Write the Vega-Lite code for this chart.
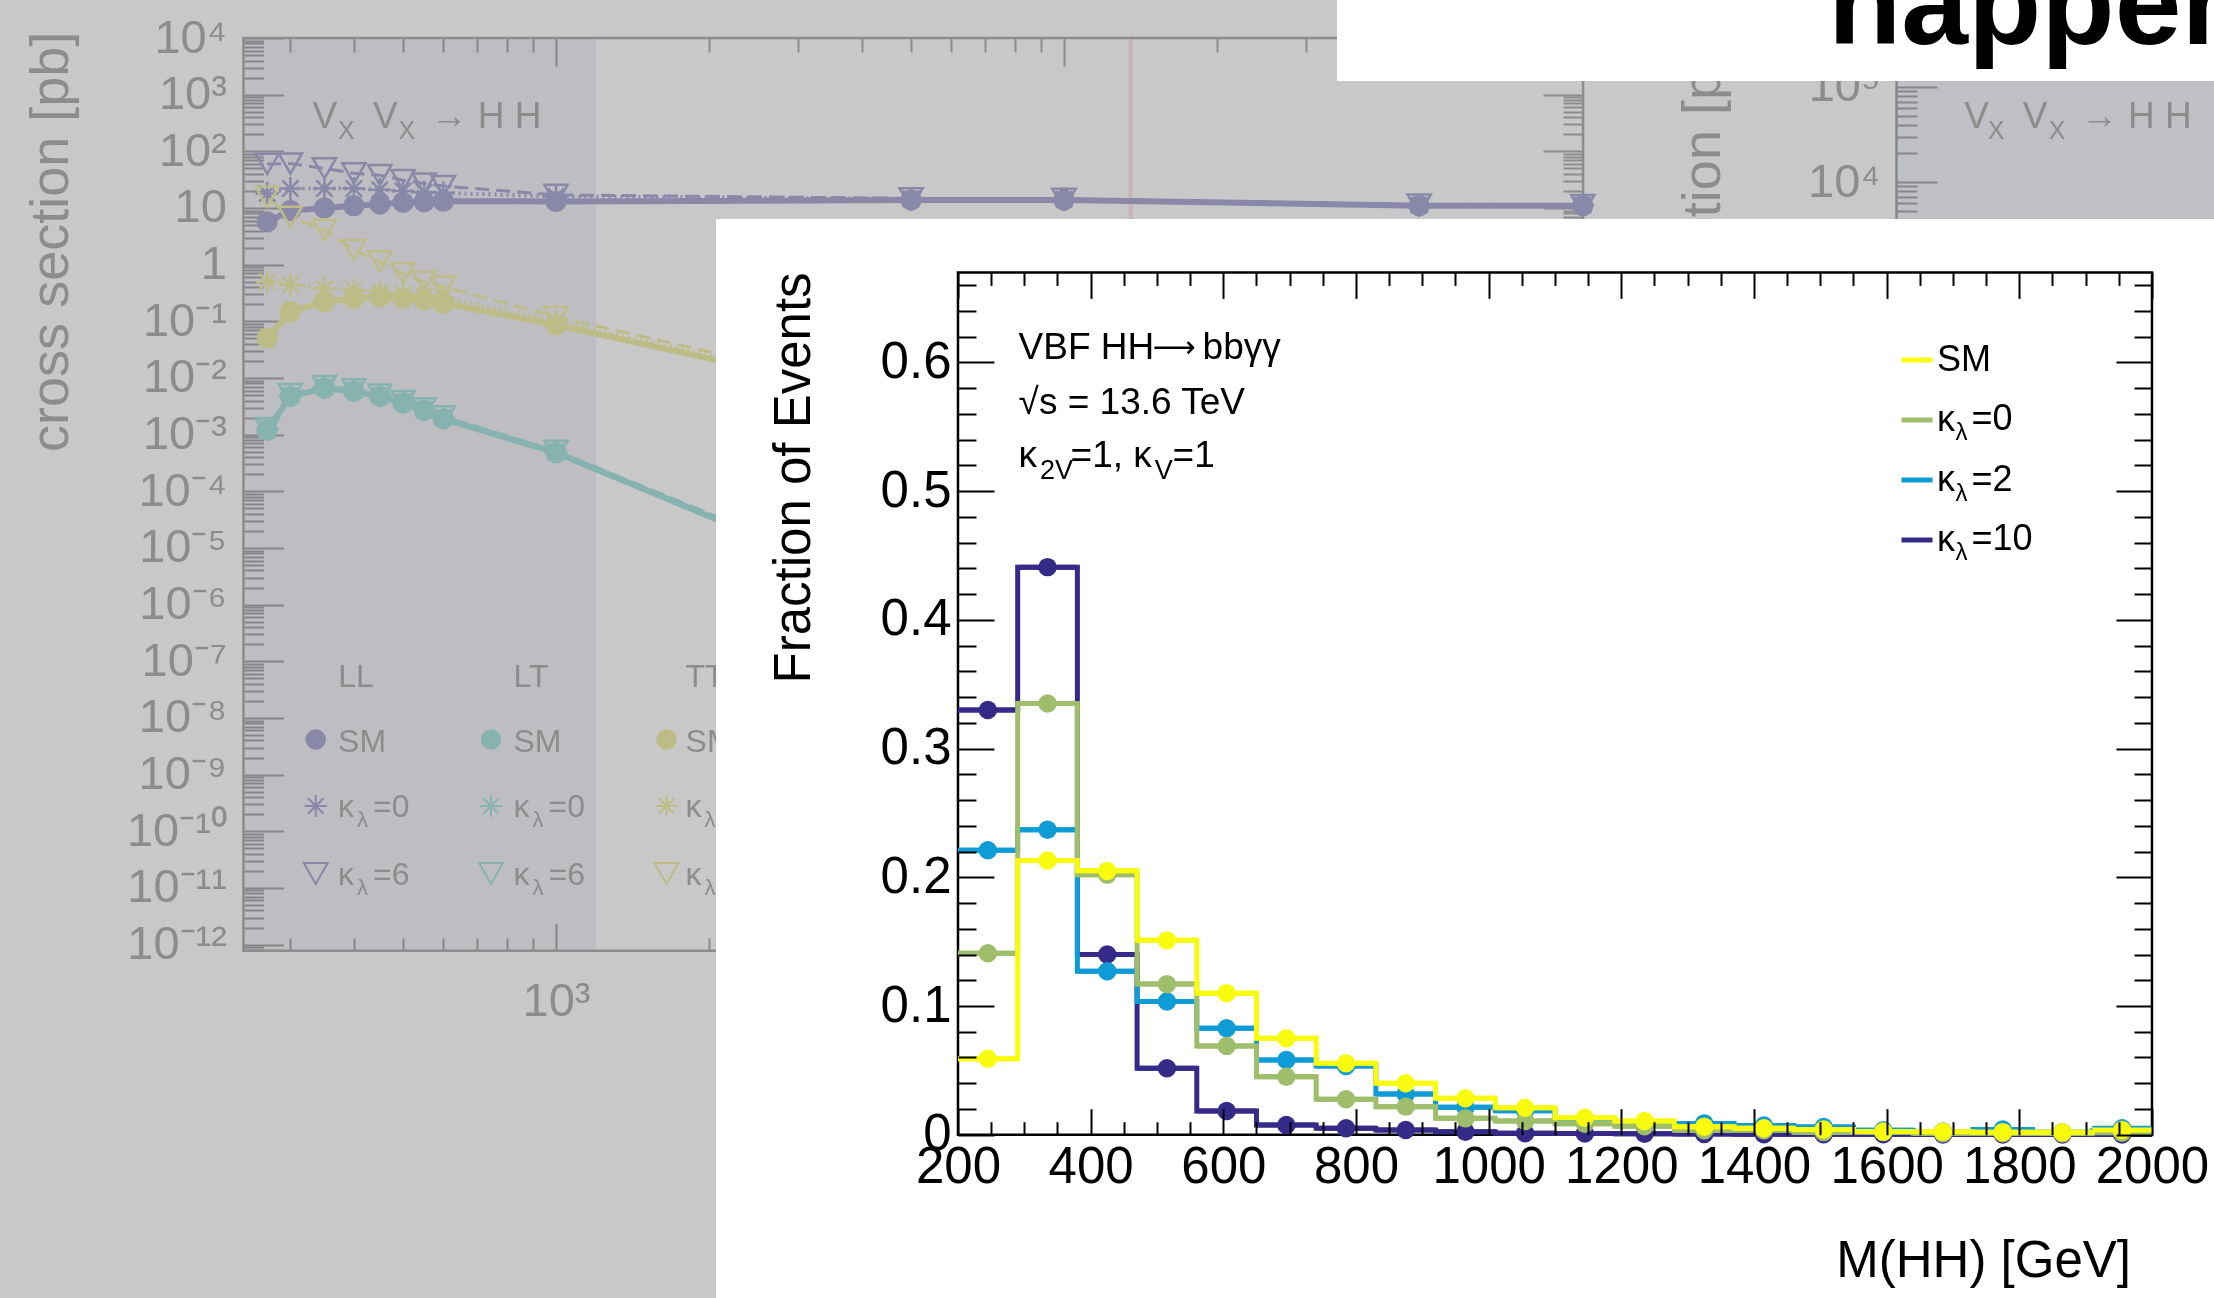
{
"$schema":"https://vega.github.io/schema/vega-lite/v6.json",
"width":2214,"height":1298,
"autosize":{"type":"none"},
"padding":0,
"background":"#c8c8c8",
"config":{"view":{"stroke":null},"font":"Liberation Sans","axis":{"grid":false,"domain":false,"labelFlush":false,"labelOverlap":false}},
"data":{"values":[{}]},
"datasets":{
"k10":[{"lo":200,"hi":290,"m":245,"f":0.330},{"lo":290,"hi":380,"m":335,"f":0.441},{"lo":380,"hi":470,"m":425,"f":0.140},{"lo":470,"hi":560,"m":515,"f":0.0516},{"lo":560,"hi":650,"m":605,"f":0.0184},{"lo":650,"hi":740,"m":695,"f":0.0075},{"lo":740,"hi":830,"m":785,"f":0.0050},{"lo":830,"hi":920,"m":875,"f":0.0037},{"lo":920,"hi":1010,"m":965,"f":0.0023},{"lo":1010,"hi":1100,"m":1055,"f":0.0012},{"lo":1100,"hi":1190,"m":1145,"f":0.0010},{"lo":1190,"hi":1280,"m":1235,"f":0.0007},{"lo":1280,"hi":1370,"m":1325,"f":0.0005},{"lo":1370,"hi":1460,"m":1415,"f":0.0004},{"lo":1460,"hi":1550,"m":1505,"f":0.0003},{"lo":1550,"hi":1640,"m":1595,"f":0.0003},{"lo":1640,"hi":1730,"m":1685,"f":0.0002},{"lo":1730,"hi":1820,"m":1775,"f":0.0002},{"lo":1820,"hi":1910,"m":1865,"f":0.0001},{"lo":1910,"hi":2000,"m":1955,"f":0.0001}],
"k2":[{"lo":200,"hi":290,"m":245,"f":0.221},{"lo":290,"hi":380,"m":335,"f":0.237},{"lo":380,"hi":470,"m":425,"f":0.127},{"lo":470,"hi":560,"m":515,"f":0.1035},{"lo":560,"hi":650,"m":605,"f":0.0827},{"lo":650,"hi":740,"m":695,"f":0.0580},{"lo":740,"hi":830,"m":785,"f":0.0534},{"lo":830,"hi":920,"m":875,"f":0.0316},{"lo":920,"hi":1010,"m":965,"f":0.0213},{"lo":1010,"hi":1100,"m":1055,"f":0.0187},{"lo":1100,"hi":1190,"m":1145,"f":0.0125},{"lo":1190,"hi":1280,"m":1235,"f":0.0095},{"lo":1280,"hi":1370,"m":1325,"f":0.0088},{"lo":1370,"hi":1460,"m":1415,"f":0.0072},{"lo":1460,"hi":1550,"m":1505,"f":0.0060},{"lo":1550,"hi":1640,"m":1595,"f":0.0035},{"lo":1640,"hi":1730,"m":1685,"f":0.0025},{"lo":1730,"hi":1820,"m":1775,"f":0.0040},{"lo":1820,"hi":1910,"m":1865,"f":0.0020},{"lo":1910,"hi":2000,"m":1955,"f":0.0050}],
"k0":[{"lo":200,"hi":290,"m":245,"f":0.141},{"lo":290,"hi":380,"m":335,"f":0.335},{"lo":380,"hi":470,"m":425,"f":0.202},{"lo":470,"hi":560,"m":515,"f":0.117},{"lo":560,"hi":650,"m":605,"f":0.069},{"lo":650,"hi":740,"m":695,"f":0.045},{"lo":740,"hi":830,"m":785,"f":0.0275},{"lo":830,"hi":920,"m":875,"f":0.0218},{"lo":920,"hi":1010,"m":965,"f":0.0127},{"lo":1010,"hi":1100,"m":1055,"f":0.0106},{"lo":1100,"hi":1190,"m":1145,"f":0.0085},{"lo":1190,"hi":1280,"m":1235,"f":0.0065},{"lo":1280,"hi":1370,"m":1325,"f":0.0035},{"lo":1370,"hi":1460,"m":1415,"f":0.0035},{"lo":1460,"hi":1550,"m":1505,"f":0.0020},{"lo":1550,"hi":1640,"m":1595,"f":0.0020},{"lo":1640,"hi":1730,"m":1685,"f":0.0012},{"lo":1730,"hi":1820,"m":1775,"f":0.0012},{"lo":1820,"hi":1910,"m":1865,"f":0.0010},{"lo":1910,"hi":2000,"m":1955,"f":0.0015}],
"sm":[{"lo":200,"hi":290,"m":245,"f":0.059},{"lo":290,"hi":380,"m":335,"f":0.213},{"lo":380,"hi":470,"m":425,"f":0.205},{"lo":470,"hi":560,"m":515,"f":0.151},{"lo":560,"hi":650,"m":605,"f":0.110},{"lo":650,"hi":740,"m":695,"f":0.075},{"lo":740,"hi":830,"m":785,"f":0.0555},{"lo":830,"hi":920,"m":875,"f":0.040},{"lo":920,"hi":1010,"m":965,"f":0.0283},{"lo":1010,"hi":1100,"m":1055,"f":0.0210},{"lo":1100,"hi":1190,"m":1145,"f":0.0132},{"lo":1190,"hi":1280,"m":1235,"f":0.0106},{"lo":1280,"hi":1370,"m":1325,"f":0.0062},{"lo":1370,"hi":1460,"m":1415,"f":0.0050},{"lo":1460,"hi":1550,"m":1505,"f":0.0040},{"lo":1550,"hi":1640,"m":1595,"f":0.0025},{"lo":1640,"hi":1730,"m":1685,"f":0.0023},{"lo":1730,"hi":1820,"m":1775,"f":0.0020},{"lo":1820,"hi":1910,"m":1865,"f":0.0020},{"lo":1910,"hi":2000,"m":1955,"f":0.0037}],
"bg":[
{"ch":"LL","kl":"SM","x":270,"y":5.7},{"ch":"LL","kl":"SM","x":300,"y":9},{"ch":"LL","kl":"SM","x":350,"y":10},{"ch":"LL","kl":"SM","x":400,"y":11},{"ch":"LL","kl":"SM","x":450,"y":11.7},{"ch":"LL","kl":"SM","x":500,"y":12.5},{"ch":"LL","kl":"SM","x":550,"y":12.9},{"ch":"LL","kl":"SM","x":600,"y":13.2},{"ch":"LL","kl":"SM","x":1000,"y":13},{"ch":"LL","kl":"SM","x":5000,"y":13.8},{"ch":"LL","kl":"SM","x":10000,"y":13.8},{"ch":"LL","kl":"SM","x":50000,"y":11},{"ch":"LL","kl":"SM","x":105000,"y":11},
{"ch":"LL","kl":"0","x":270,"y":18},{"ch":"LL","kl":"0","x":300,"y":22},{"ch":"LL","kl":"0","x":350,"y":22},{"ch":"LL","kl":"0","x":400,"y":22},{"ch":"LL","kl":"0","x":450,"y":21},{"ch":"LL","kl":"0","x":500,"y":20},{"ch":"LL","kl":"0","x":550,"y":19},{"ch":"LL","kl":"0","x":600,"y":18.5},{"ch":"LL","kl":"0","x":1000,"y":16},{"ch":"LL","kl":"0","x":5000,"y":14.5},{"ch":"LL","kl":"0","x":10000,"y":14.2},{"ch":"LL","kl":"0","x":50000,"y":11.2},{"ch":"LL","kl":"0","x":105000,"y":11.2},
{"ch":"LL","kl":"6","x":270,"y":60},{"ch":"LL","kl":"6","x":300,"y":61},{"ch":"LL","kl":"6","x":350,"y":50},{"ch":"LL","kl":"6","x":400,"y":41},{"ch":"LL","kl":"6","x":450,"y":38},{"ch":"LL","kl":"6","x":500,"y":31},{"ch":"LL","kl":"6","x":550,"y":27},{"ch":"LL","kl":"6","x":600,"y":24.4},{"ch":"LL","kl":"6","x":1000,"y":17},{"ch":"LL","kl":"6","x":5000,"y":14.8},{"ch":"LL","kl":"6","x":10000,"y":14.5},{"ch":"LL","kl":"6","x":50000,"y":11.5},{"ch":"LL","kl":"6","x":105000,"y":11.3},
{"ch":"TT","kl":"SM","x":270,"y":0.05},{"ch":"TT","kl":"SM","x":300,"y":0.148},{"ch":"TT","kl":"SM","x":350,"y":0.222},{"ch":"TT","kl":"SM","x":400,"y":0.255},{"ch":"TT","kl":"SM","x":450,"y":0.27},{"ch":"TT","kl":"SM","x":500,"y":0.255},{"ch":"TT","kl":"SM","x":550,"y":0.238},{"ch":"TT","kl":"SM","x":600,"y":0.208},{"ch":"TT","kl":"SM","x":1000,"y":0.086},{"ch":"TT","kl":"SM","x":5000,"y":0.0037},
{"ch":"TT","kl":"0","x":270,"y":0.5},{"ch":"TT","kl":"0","x":300,"y":0.44},{"ch":"TT","kl":"0","x":350,"y":0.38},{"ch":"TT","kl":"0","x":400,"y":0.36},{"ch":"TT","kl":"0","x":450,"y":0.33},{"ch":"TT","kl":"0","x":500,"y":0.3},{"ch":"TT","kl":"0","x":550,"y":0.28},{"ch":"TT","kl":"0","x":600,"y":0.26},{"ch":"TT","kl":"0","x":1000,"y":0.1},{"ch":"TT","kl":"0","x":5000,"y":0.004},
{"ch":"TT","kl":"6","x":270,"y":15.8},{"ch":"TT","kl":"6","x":300,"y":7},{"ch":"TT","kl":"6","x":350,"y":4.1},{"ch":"TT","kl":"6","x":400,"y":1.8},{"ch":"TT","kl":"6","x":450,"y":1.13},{"ch":"TT","kl":"6","x":500,"y":0.7},{"ch":"TT","kl":"6","x":550,"y":0.5},{"ch":"TT","kl":"6","x":600,"y":0.41},{"ch":"TT","kl":"6","x":1000,"y":0.12},{"ch":"TT","kl":"6","x":5000,"y":0.0045},
{"ch":"LT","kl":"SM","x":270,"y":0.0012},{"ch":"LT","kl":"SM","x":300,"y":0.0047},{"ch":"LT","kl":"SM","x":350,"y":0.0066},{"ch":"LT","kl":"SM","x":400,"y":0.0058},{"ch":"LT","kl":"SM","x":450,"y":0.0047},{"ch":"LT","kl":"SM","x":500,"y":0.0036},{"ch":"LT","kl":"SM","x":550,"y":0.0027},{"ch":"LT","kl":"SM","x":600,"y":0.0019},{"ch":"LT","kl":"SM","x":1000,"y":0.00048},{"ch":"LT","kl":"SM","x":5000,"y":0.0000012},
{"ch":"LT","kl":"0","x":270,"y":0.00125},{"ch":"LT","kl":"0","x":300,"y":0.0049},{"ch":"LT","kl":"0","x":350,"y":0.0069},{"ch":"LT","kl":"0","x":400,"y":0.0061},{"ch":"LT","kl":"0","x":450,"y":0.0049},{"ch":"LT","kl":"0","x":500,"y":0.0038},{"ch":"LT","kl":"0","x":550,"y":0.0028},{"ch":"LT","kl":"0","x":600,"y":0.002},{"ch":"LT","kl":"0","x":1000,"y":0.0005},{"ch":"LT","kl":"0","x":5000,"y":0.0000013},
{"ch":"LT","kl":"6","x":270,"y":0.0013},{"ch":"LT","kl":"6","x":300,"y":0.0052},{"ch":"LT","kl":"6","x":350,"y":0.0072},{"ch":"LT","kl":"6","x":400,"y":0.0063},{"ch":"LT","kl":"6","x":450,"y":0.0051},{"ch":"LT","kl":"6","x":500,"y":0.0039},{"ch":"LT","kl":"6","x":550,"y":0.0029},{"ch":"LT","kl":"6","x":600,"y":0.0021},{"ch":"LT","kl":"6","x":1000,"y":0.00052},{"ch":"LT","kl":"6","x":5000,"y":0.0000014}
]
},
"layer":[
{
"layer":[
{
"layer":[
{"mark":{"type":"rect","color":"#f2f3f8","blend":"multiply"},"encoding":{"x":{"datum":242.5,"type":"quantitative","axis":null},"x2":{"datum":1200},"y":{"datum":7.8e-13,"type":"quantitative","axis":null},"y2":{"datum":10000}}},
{"mark":{"type":"rule","color":"#c8b4b6","strokeWidth":4},"encoding":{"x":{"datum":13524,"type":"quantitative","axis":null},"y":{"datum":7.8e-13,"type":"quantitative","axis":null},"y2":{"datum":10000}}},
{"mark":{"type":"rect","filled":false,"color":"#8c8c8c","strokeWidth":2.5},"encoding":{"x":{"datum":242.5,"type":"quantitative","axis":null},"x2":{"datum":105122},"y":{"datum":7.8e-13,"type":"quantitative","axis":null},"y2":{"datum":10000}}},
{"data":{"name":"bg"},"transform":[{"filter":"datum.kl == 'SM'"}],"mark":{"type":"line","strokeWidth":6,"strokeCap":"round"},"encoding":{
"x":{"field":"x","type":"quantitative","scale":{"type":"log","domain":[80.44,1835500],"nice":false,"zero":false},"axis":{"orient":"bottom","offset":-347.3,"values":[1000,10000,100000],"ticks":false,"labelExpr":"({'3':'10³','4':'10⁴','5':'10⁵'})[''+round(log(datum.value)/LN10)]","labelFontSize":47,"labelColor":"#8c8c8c","labelPadding":28,"title":null}},
"y":{"field":"y","type":"quantitative","scale":{"type":"log","domain":[5.783e-19,46854],"nice":false,"zero":false},"axis":{"orient":"left","offset":-243.4,"values":[1e-12,1e-11,1e-10,1e-9,1e-8,1e-7,1e-6,1e-5,1e-4,0.001,0.01,0.1,1,10,100,1000,10000],"ticks":false,"labelExpr":"({'4':'10⁴','3':'10³','2':'10²','1':'10','0':'1','-1':'10⁻¹','-2':'10⁻²','-3':'10⁻³','-4':'10⁻⁴','-5':'10⁻⁵','-6':'10⁻⁶','-7':'10⁻⁷','-8':'10⁻⁸','-9':'10⁻⁹','-10':'10⁻¹⁰','-11':'10⁻¹¹','-12':'10⁻¹²'})[''+round(log(datum.value)/LN10)]","labelFontSize":47,"labelColor":"#8c8c8c","labelPadding":17,"title":null}},
"color":{"field":"ch","type":"nominal","scale":{"domain":["LL","LT","TT"],"range":["#8a88a8","#86b2b0","#bdbc87"]},"legend":null}}},
{"data":{"name":"bg"},"transform":[{"filter":"datum.kl == '0'"}],"mark":{"type":"line","strokeWidth":4,"strokeDash":[2,4]},"encoding":{
"x":{"field":"x","type":"quantitative","axis":{"orient":"top","offset":-950.7,"values":[1000,10000,100000],"labels":false,"tickSize":27,"tickWidth":2,"tickColor":"#8c8c8c","title":null}},
"y":{"field":"y","type":"quantitative","axis":{"orient":"right","offset":-1970.6,"values":[1e-12,1e-11,1e-10,1e-9,1e-8,1e-7,1e-6,1e-5,1e-4,0.001,0.01,0.1,1,10,100,1000,10000],"labels":false,"tickSize":40,"tickWidth":2,"tickColor":"#8c8c8c","title":null}},
"color":{"field":"ch","type":"nominal","legend":null}}},
{"data":{"name":"bg"},"transform":[{"filter":"datum.kl == '6'"}],"mark":{"type":"line","strokeWidth":3,"strokeDash":[14,7]},"encoding":{
"x":{"field":"x","type":"quantitative","axis":{"orient":"top","offset":-950.7,"values":[300,400,500,600,700,800,900,2000,3000,4000,5000,6000,7000,8000,9000,20000,30000,40000,50000,60000,70000,80000,90000],"labels":false,"tickSize":13,"tickWidth":2,"tickColor":"#8c8c8c","title":null}},
"y":{"field":"y","type":"quantitative","axis":{"orient":"right","offset":-1970.6,"values":[8e-13,9e-13,2e-12,3e-12,4e-12,5e-12,6e-12,7e-12,8e-12,9e-12,2e-11,3e-11,4e-11,5e-11,6e-11,7e-11,8e-11,9e-11,2e-10,3e-10,4e-10,5e-10,6e-10,7e-10,8e-10,9e-10,2e-9,3e-9,4e-9,5e-9,6e-9,7e-9,8e-9,9e-9,2e-8,3e-8,4e-8,5e-8,6e-8,7e-8,8e-8,9e-8,2e-7,3e-7,4e-7,5e-7,6e-7,7e-7,8e-7,9e-7,2e-6,3e-6,4e-6,5e-6,6e-6,7e-6,8e-6,9e-6,2e-5,3e-5,4e-5,5e-5,6e-5,7e-5,8e-5,9e-5,2e-4,3e-4,4e-4,5e-4,6e-4,7e-4,8e-4,9e-4,0.002,0.003,0.004,0.005,0.006,0.007,0.008,0.009,0.02,0.03,0.04,0.05,0.06,0.07,0.08,0.09,0.2,0.3,0.4,0.5,0.6,0.7,0.8,0.9,2,3,4,5,6,7,8,9,20,30,40,50,60,70,80,90,200,300,400,500,600,700,800,900,2000,3000,4000,5000,6000,7000,8000,9000],"labels":false,"tickSize":20,"tickWidth":2,"tickColor":"#8c8c8c","title":null}},
"color":{"field":"ch","type":"nominal","legend":null}}},
{"data":{"name":"bg"},"transform":[{"filter":"datum.kl == 'SM'"}],"mark":{"type":"circle","size":450,"opacity":1},"encoding":{
"x":{"field":"x","type":"quantitative","axis":{"orient":"bottom","offset":-1260,"values":[1000,10000,100000],"labels":false,"tickSize":28,"tickWidth":2,"tickColor":"#8c8c8c","title":null}},
"y":{"field":"y","type":"quantitative","axis":{"orient":"left","offset":-1583,"values":[1e-12,1e-11,1e-10,1e-9,1e-8,1e-7,1e-6,1e-5,1e-4,0.001,0.01,0.1,1,10,100,1000,10000],"labels":false,"tickSize":40,"tickWidth":2,"tickColor":"#8c8c8c","title":null}},
"color":{"field":"ch","type":"nominal","legend":null}}},
{"data":{"name":"bg"},"transform":[{"filter":"datum.kl != 'SM'"}],"mark":{"type":"point","filled":false,"size":540,"strokeWidth":2.5,"opacity":1},"encoding":{
"x":{"field":"x","type":"quantitative","axis":{"orient":"bottom","offset":-1260,"values":[300,400,500,600,700,800,900,2000,3000,4000,5000,6000,7000,8000,9000,20000,30000,40000,50000,60000,70000,80000,90000],"labels":false,"tickSize":14,"tickWidth":2,"tickColor":"#8c8c8c","title":null}},
"y":{"field":"y","type":"quantitative","axis":{"orient":"left","offset":-1583,"values":[2e-12,3e-12,4e-12,5e-12,6e-12,7e-12,8e-12,9e-12,2e-11,3e-11,4e-11,5e-11,6e-11,7e-11,8e-11,9e-11,2e-10,3e-10,4e-10,5e-10,6e-10,7e-10,8e-10,9e-10,2e-9,3e-9,4e-9,5e-9,6e-9,7e-9,8e-9,9e-9,2e-8,3e-8,4e-8,5e-8,6e-8,7e-8,8e-8,9e-8,2e-7,3e-7,4e-7,5e-7,6e-7,7e-7,8e-7,9e-7,2e-6,3e-6,4e-6,5e-6,6e-6,7e-6,8e-6,9e-6,2e-5,3e-5,4e-5,5e-5,6e-5,7e-5,8e-5,9e-5,2e-4,3e-4,4e-4,5e-4,6e-4,7e-4,8e-4,9e-4,0.002,0.003,0.004,0.005,0.006,0.007,0.008,0.009,0.02,0.03,0.04,0.05,0.06,0.07,0.08,0.09,0.2,0.3,0.4,0.5,0.6,0.7,0.8,0.9,2,3,4,5,6,7,8,9,20,30,40,50,60,70,80,90,200,300,400,500,600,700,800,900,2000,3000,4000,5000,6000,7000,8000,9000],"labels":false,"tickSize":20,"tickWidth":2,"tickColor":"#8c8c8c","title":null}},
"shape":{"field":"kl","type":"nominal","scale":{"domain":["0","6"],"range":["M-1,0L1,0M0,-1L0,1M-0.7,-0.7L0.7,0.7M-0.7,0.7L0.7,-0.7","triangle-down"]},"legend":null},
"color":{"field":"ch","type":"nominal","legend":null}}},
{"mark":{"type":"text","text":"cross section [pb]","fontSize":54,"angle":270,"align":"right","baseline":"alphabetic","color":"#8c8c8c"},"encoding":{"x":{"datum":109.5,"type":"quantitative","axis":null},"y":{"datum":12918,"type":"quantitative","axis":null}}},
{"mark":{"type":"text","text":"V","fontSize":37,"align":"left","baseline":"alphabetic","color":"#8c8c8c"},"encoding":{"x":{"datum":331.6,"type":"quantitative","axis":null},"y":{"datum":254.9,"type":"quantitative","axis":null}}},
{"mark":{"type":"text","text":"X","fontSize":25,"dx":25.5,"dy":11,"align":"left","baseline":"alphabetic","color":"#8c8c8c"},"encoding":{"x":{"datum":331.6,"type":"quantitative","axis":null},"y":{"datum":254.9,"type":"quantitative","axis":null}}},
{"mark":{"type":"text","text":"V","fontSize":37,"dx":60.5,"align":"left","baseline":"alphabetic","color":"#8c8c8c"},"encoding":{"x":{"datum":331.6,"type":"quantitative","axis":null},"y":{"datum":254.9,"type":"quantitative","axis":null}}},
{"mark":{"type":"text","text":"X","fontSize":25,"dx":86,"dy":11,"align":"left","baseline":"alphabetic","color":"#8c8c8c"},"encoding":{"x":{"datum":331.6,"type":"quantitative","axis":null},"y":{"datum":254.9,"type":"quantitative","axis":null}}},
{"mark":{"type":"text","text":"→ H H","fontSize":37,"dx":118,"align":"left","baseline":"alphabetic","color":"#8c8c8c"},"encoding":{"x":{"datum":331.6,"type":"quantitative","axis":null},"y":{"datum":254.9,"type":"quantitative","axis":null}}},
{"mark":{"type":"text","text":"LL","fontSize":32,"align":"center","baseline":"alphabetic","color":"#8c8c8c"},"encoding":{"x":{"datum":404,"type":"quantitative","axis":null},"y":{"datum":3.541e-8,"type":"quantitative","axis":null}}},
{"mark":{"type":"text","text":"LT","fontSize":32,"align":"center","baseline":"alphabetic","color":"#8c8c8c"},"encoding":{"x":{"datum":892.8,"type":"quantitative","axis":null},"y":{"datum":3.541e-8,"type":"quantitative","axis":null}}},
{"mark":{"type":"text","text":"TT","fontSize":32,"align":"center","baseline":"alphabetic","color":"#8c8c8c"},"encoding":{"x":{"datum":1965,"type":"quantitative","axis":null},"y":{"datum":3.541e-8,"type":"quantitative","axis":null}}},
{"mark":{"type":"circle","size":420,"opacity":1,"color":"#8a88a8"},"encoding":{"x":{"datum":336.5,"type":"quantitative","axis":null},"y":{"datum":4.178e-9,"type":"quantitative","axis":null}}},
{"mark":{"type":"circle","size":420,"opacity":1,"color":"#86b2b0"},"encoding":{"x":{"datum":744.8,"type":"quantitative","axis":null},"y":{"datum":4.178e-9,"type":"quantitative","axis":null}}},
{"mark":{"type":"circle","size":420,"opacity":1,"color":"#bdbc87"},"encoding":{"x":{"datum":1650,"type":"quantitative","axis":null},"y":{"datum":4.178e-9,"type":"quantitative","axis":null}}},
{"mark":{"type":"point","shape":"M-1,0L1,0M0,-1L0,1M-0.7,-0.7L0.7,0.7M-0.7,0.7L0.7,-0.7","filled":false,"size":484,"strokeWidth":2,"opacity":1,"color":"#8a88a8"},"encoding":{"x":{"datum":336.5,"type":"quantitative","axis":null},"y":{"datum":2.79e-10,"type":"quantitative","axis":null}}},
{"mark":{"type":"point","shape":"M-1,0L1,0M0,-1L0,1M-0.7,-0.7L0.7,0.7M-0.7,0.7L0.7,-0.7","filled":false,"size":484,"strokeWidth":2,"opacity":1,"color":"#86b2b0"},"encoding":{"x":{"datum":744.8,"type":"quantitative","axis":null},"y":{"datum":2.79e-10,"type":"quantitative","axis":null}}},
{"mark":{"type":"point","shape":"M-1,0L1,0M0,-1L0,1M-0.7,-0.7L0.7,0.7M-0.7,0.7L0.7,-0.7","filled":false,"size":484,"strokeWidth":2,"opacity":1,"color":"#bdbc87"},"encoding":{"x":{"datum":1650,"type":"quantitative","axis":null},"y":{"datum":2.79e-10,"type":"quantitative","axis":null}}},
{"mark":{"type":"point","shape":"triangle-down","filled":false,"size":576,"strokeWidth":2,"opacity":1,"color":"#8a88a8"},"encoding":{"x":{"datum":336.5,"type":"quantitative","axis":null},"y":{"datum":1.795e-11,"type":"quantitative","axis":null}}},
{"mark":{"type":"point","shape":"triangle-down","filled":false,"size":576,"strokeWidth":2,"opacity":1,"color":"#86b2b0"},"encoding":{"x":{"datum":744.8,"type":"quantitative","axis":null},"y":{"datum":1.795e-11,"type":"quantitative","axis":null}}},
{"mark":{"type":"point","shape":"triangle-down","filled":false,"size":576,"strokeWidth":2,"opacity":1,"color":"#bdbc87"},"encoding":{"x":{"datum":1650,"type":"quantitative","axis":null},"y":{"datum":1.795e-11,"type":"quantitative","axis":null}}},
{"mark":{"type":"text","text":"SM","fontSize":32,"align":"left","baseline":"alphabetic","color":"#8c8c8c"},"encoding":{"x":{"datum":372.3,"type":"quantitative","axis":null},"y":{"datum":2.544e-9,"type":"quantitative","axis":null}}},
{"mark":{"type":"text","text":"SM","fontSize":32,"align":"left","baseline":"alphabetic","color":"#8c8c8c"},"encoding":{"x":{"datum":824.6,"type":"quantitative","axis":null},"y":{"datum":2.544e-9,"type":"quantitative","axis":null}}},
{"mark":{"type":"text","text":"SM","fontSize":32,"align":"left","baseline":"alphabetic","color":"#8c8c8c"},"encoding":{"x":{"datum":1799,"type":"quantitative","axis":null},"y":{"datum":2.544e-9,"type":"quantitative","axis":null}}},
{"mark":{"type":"text","text":"κ","fontSize":32,"align":"left","baseline":"alphabetic","color":"#8c8c8c"},"encoding":{"x":{"datum":372.3,"type":"quantitative","axis":null},"y":{"datum":1.82e-10,"type":"quantitative","axis":null}}},
{"mark":{"type":"text","text":"λ","fontSize":22,"dx":19,"dy":10,"align":"left","baseline":"alphabetic","color":"#8c8c8c"},"encoding":{"x":{"datum":372.3,"type":"quantitative","axis":null},"y":{"datum":1.82e-10,"type":"quantitative","axis":null}}},
{"mark":{"type":"text","text":"=0","fontSize":32,"dx":35,"align":"left","baseline":"alphabetic","color":"#8c8c8c"},"encoding":{"x":{"datum":372.3,"type":"quantitative","axis":null},"y":{"datum":1.82e-10,"type":"quantitative","axis":null}}},
{"mark":{"type":"text","text":"κ","fontSize":32,"align":"left","baseline":"alphabetic","color":"#8c8c8c"},"encoding":{"x":{"datum":824.6,"type":"quantitative","axis":null},"y":{"datum":1.82e-10,"type":"quantitative","axis":null}}},
{"mark":{"type":"text","text":"λ","fontSize":22,"dx":19,"dy":10,"align":"left","baseline":"alphabetic","color":"#8c8c8c"},"encoding":{"x":{"datum":824.6,"type":"quantitative","axis":null},"y":{"datum":1.82e-10,"type":"quantitative","axis":null}}},
{"mark":{"type":"text","text":"=0","fontSize":32,"dx":35,"align":"left","baseline":"alphabetic","color":"#8c8c8c"},"encoding":{"x":{"datum":824.6,"type":"quantitative","axis":null},"y":{"datum":1.82e-10,"type":"quantitative","axis":null}}},
{"mark":{"type":"text","text":"κ","fontSize":32,"align":"left","baseline":"alphabetic","color":"#8c8c8c"},"encoding":{"x":{"datum":1799,"type":"quantitative","axis":null},"y":{"datum":1.82e-10,"type":"quantitative","axis":null}}},
{"mark":{"type":"text","text":"λ","fontSize":22,"dx":19,"dy":10,"align":"left","baseline":"alphabetic","color":"#8c8c8c"},"encoding":{"x":{"datum":1799,"type":"quantitative","axis":null},"y":{"datum":1.82e-10,"type":"quantitative","axis":null}}},
{"mark":{"type":"text","text":"κ","fontSize":32,"align":"left","baseline":"alphabetic","color":"#8c8c8c"},"encoding":{"x":{"datum":372.3,"type":"quantitative","axis":null},"y":{"datum":1.125e-11,"type":"quantitative","axis":null}}},
{"mark":{"type":"text","text":"λ","fontSize":22,"dx":19,"dy":10,"align":"left","baseline":"alphabetic","color":"#8c8c8c"},"encoding":{"x":{"datum":372.3,"type":"quantitative","axis":null},"y":{"datum":1.125e-11,"type":"quantitative","axis":null}}},
{"mark":{"type":"text","text":"=6","fontSize":32,"dx":35,"align":"left","baseline":"alphabetic","color":"#8c8c8c"},"encoding":{"x":{"datum":372.3,"type":"quantitative","axis":null},"y":{"datum":1.125e-11,"type":"quantitative","axis":null}}},
{"mark":{"type":"text","text":"κ","fontSize":32,"align":"left","baseline":"alphabetic","color":"#8c8c8c"},"encoding":{"x":{"datum":824.6,"type":"quantitative","axis":null},"y":{"datum":1.125e-11,"type":"quantitative","axis":null}}},
{"mark":{"type":"text","text":"λ","fontSize":22,"dx":19,"dy":10,"align":"left","baseline":"alphabetic","color":"#8c8c8c"},"encoding":{"x":{"datum":824.6,"type":"quantitative","axis":null},"y":{"datum":1.125e-11,"type":"quantitative","axis":null}}},
{"mark":{"type":"text","text":"=6","fontSize":32,"dx":35,"align":"left","baseline":"alphabetic","color":"#8c8c8c"},"encoding":{"x":{"datum":824.6,"type":"quantitative","axis":null},"y":{"datum":1.125e-11,"type":"quantitative","axis":null}}},
{"mark":{"type":"text","text":"κ","fontSize":32,"align":"left","baseline":"alphabetic","color":"#8c8c8c"},"encoding":{"x":{"datum":1799,"type":"quantitative","axis":null},"y":{"datum":1.125e-11,"type":"quantitative","axis":null}}},
{"mark":{"type":"text","text":"λ","fontSize":22,"dx":19,"dy":10,"align":"left","baseline":"alphabetic","color":"#8c8c8c"},"encoding":{"x":{"datum":1799,"type":"quantitative","axis":null},"y":{"datum":1.125e-11,"type":"quantitative","axis":null}}}
],
"resolve":{"axis":{"x":"independent","y":"independent"}}
},
{
"layer":[
{"mark":{"type":"rect","color":"#f4f5f9","blend":"multiply"},"encoding":{"x":{"datum":434400,"type":"quantitative","axis":null},"x2":{"datum":3000000},"y":{"datum":1e-7,"type":"quantitative","scale":{"type":"log","domain":[1.79e-8,823700],"nice":false,"zero":false},"axis":{"orient":"left","offset":-1896,"values":[10000,100000],"ticks":false,"labelExpr":"({'4':'10⁴','5':'10⁵'})[''+round(log(datum.value)/LN10)]","labelFontSize":47,"labelColor":"#8c8c8c","labelPadding":16,"title":null}},"y2":{"datum":1e7}}},
{"mark":{"type":"text","text":"cross section [pb]","fontSize":54,"angle":270,"align":"right","baseline":"alphabetic","color":"#8c8c8c"},"encoding":{"x":{"datum":195600,"type":"quantitative","axis":null},"y":{"datum":449400,"type":"quantitative","axis":{"orient":"right","offset":-318,"values":[10000,100000],"labels":false,"tickSize":41,"tickWidth":2,"tickColor":"#8c8c8c","domain":true,"domainColor":"#8c8c8c","domainWidth":2.5,"title":null}}}},
{"mark":{"type":"text","text":"V","fontSize":37,"align":"left","baseline":"alphabetic","color":"#8c8c8c"},"encoding":{"x":{"datum":591900,"type":"quantitative","axis":null},"y":{"datum":36750,"type":"quantitative","axis":{"orient":"right","offset":-318,"values":[5000,6000,7000,8000,9000,20000,30000,40000,50000,60000,70000,80000,90000],"labels":false,"tickSize":21,"tickWidth":2,"tickColor":"#8c8c8c","title":null}}}},
{"mark":{"type":"text","text":"X","fontSize":25,"dx":23.5,"dy":11,"align":"left","baseline":"alphabetic","color":"#8c8c8c"},"encoding":{"x":{"datum":591900,"type":"quantitative","axis":null},"y":{"datum":36750,"type":"quantitative","axis":null}}},
{"mark":{"type":"text","text":"V","fontSize":37,"dx":58.5,"align":"left","baseline":"alphabetic","color":"#8c8c8c"},"encoding":{"x":{"datum":591900,"type":"quantitative","axis":null},"y":{"datum":36750,"type":"quantitative","axis":null}}},
{"mark":{"type":"text","text":"X","fontSize":25,"dx":84.5,"dy":11,"align":"left","baseline":"alphabetic","color":"#8c8c8c"},"encoding":{"x":{"datum":591900,"type":"quantitative","axis":null},"y":{"datum":36750,"type":"quantitative","axis":null}}},
{"mark":{"type":"text","text":"→ H H","fontSize":37,"dx":116.5,"align":"left","baseline":"alphabetic","color":"#8c8c8c"},"encoding":{"x":{"datum":591900,"type":"quantitative","axis":null},"y":{"datum":36750,"type":"quantitative","axis":null}}},
{"mark":{"type":"rect","color":"#ffffff"},"encoding":{"x":{"datum":34460,"type":"quantitative","axis":null},"x2":{"datum":3000000},"y":{"datum":115660,"type":"quantitative","axis":null},"y2":{"datum":10000000}}},
{"mark":{"type":"text","text":"happen","fontSize":120,"fontWeight":"bold","align":"left","baseline":"alphabetic","color":"#000000"},"encoding":{"x":{"datum":319100,"type":"quantitative","axis":null},"y":{"datum":283600,"type":"quantitative","axis":null}}}
],
"resolve":{"axis":{"x":"independent","y":"independent"}}
}
],
"resolve":{"scale":{"y":"independent"},"axis":{"x":"independent","y":"independent"}}
},
{
"layer":[
{"mark":{"type":"rect","color":"#ffffff"},"encoding":{"x":{"datum":-164.8,"type":"quantitative","scale":{"domain":[-1244.2,2093.5],"nice":false,"zero":false},"axis":null},"x2":{"datum":2300},"y":{"datum":-0.3,"type":"quantitative","scale":{"domain":[-0.12688,0.88166],"nice":false,"zero":false},"axis":null},"y2":{"datum":0.7115}}},
{"mark":{"type":"rect","filled":false,"color":"#000000","strokeWidth":2.5},"encoding":{"x":{"datum":200,"type":"quantitative","axis":null},"x2":{"datum":2000},"y":{"datum":0,"type":"quantitative","axis":null},"y2":{"datum":0.67}}},
{"data":{"name":"k10"},"mark":{"type":"rule","color":"#352a87","strokeWidth":5,"strokeCap":"butt"},"encoding":{
"x":{"field":"lo","type":"quantitative","axis":{"orient":"bottom","offset":-1025.6,"values":[250,300,350,450,500,550,650,700,750,850,900,950,1050,1100,1150,1250,1300,1350,1450,1500,1550,1650,1700,1750,1850,1900,1950],"labels":false,"tickSize":13,"tickWidth":2,"tickColor":"#000000","title":null,"zindex":1}},
"x2":{"field":"hi"},
"y":{"field":"f","type":"quantitative","axis":{"orient":"left","offset":-2152,"values":[0.02,0.04,0.06,0.08,0.12,0.14,0.16,0.18,0.22,0.24,0.26,0.28,0.32,0.34,0.36,0.38,0.42,0.44,0.46,0.48,0.52,0.54,0.56,0.58,0.62,0.64,0.66],"labels":false,"tickSize":18,"tickWidth":2,"tickColor":"#000000","title":null,"zindex":1}}}},
{"data":{"name":"k10"},"mark":{"type":"line","interpolate":"step-after","strokeWidth":5,"strokeJoin":"miter","strokeCap":"butt"},"encoding":{
"x":{"field":"lo","type":"quantitative","axis":{"orient":"bottom","offset":-163.3,"values":[200,400,600,800,1000,1200,1400,1600,1800,2000],"ticks":false,"format":"d","labelFontSize":51,"labelColor":"#000000","labelPadding":8,"title":null,"zindex":1}},
"y":{"field":"f","type":"quantitative","axis":{"orient":"left","offset":-958,"values":[0,0.1,0.2,0.3,0.4,0.5,0.6],"ticks":false,"labelExpr":"datum.value == 0 ? '0' : format(datum.value, '.1f')","labelFontSize":51,"labelColor":"#000000","labelPadding":7,"title":null,"zindex":1}},
"color":{"datum":"κλ=10","scale":{"domain":["SM","κλ=0","κλ=2","κλ=10"],"range":["#f9fb0e","#9ebe6b","#0f9bd5","#352a87"]},"legend":{"orient":"none","legendX":1899,"legendY":342,"title":null,"symbolType":"stroke","symbolSize":961,"symbolStrokeWidth":5,"labelExpr":"datum.label == 'SM' ? 'SM' : 'κ'","labelFontSize":36,"labelFont":"Liberation Sans","labelColor":"#000000","labelOffset":2,"rowPadding":24,"padding":0,"zindex":1}}}},
{"data":{"name":"k10"},"mark":{"type":"circle","color":"#352a87","size":340,"opacity":1},"encoding":{"x":{"field":"m","type":"quantitative","axis":null},"y":{"field":"f","type":"quantitative","axis":null}}},
{"data":{"name":"k2"},"mark":{"type":"rule","color":"#0f9bd5","strokeWidth":5,"strokeCap":"butt"},"encoding":{"x":{"field":"lo","type":"quantitative","axis":null},"x2":{"field":"hi"},"y":{"field":"f","type":"quantitative","axis":null}}},
{"data":{"name":"k2"},"mark":{"type":"line","interpolate":"step-after","strokeWidth":5,"strokeJoin":"miter","strokeCap":"butt"},"encoding":{
"x":{"field":"lo","type":"quantitative","axis":{"orient":"top","offset":-1134.7,"values":[200,400,600,800,1000,1200,1400,1600,1800,2000],"labels":false,"tickSize":26,"tickWidth":2,"tickColor":"#000000","title":null,"zindex":1}},
"y":{"field":"f","type":"quantitative","axis":{"orient":"right","offset":-1256,"values":[0,0.1,0.2,0.3,0.4,0.5,0.6],"labels":false,"tickSize":36,"tickWidth":2,"tickColor":"#000000","title":null,"zindex":1}},
"color":{"datum":"κλ=2"}}},
{"data":{"name":"k2"},"mark":{"type":"circle","color":"#0f9bd5","size":340,"opacity":1},"encoding":{"x":{"field":"m","type":"quantitative","axis":null},"y":{"field":"f","type":"quantitative","axis":null}}},
{"data":{"name":"k0"},"mark":{"type":"rule","color":"#9ebe6b","strokeWidth":5,"strokeCap":"butt"},"encoding":{"x":{"field":"lo","type":"quantitative","axis":null},"x2":{"field":"hi"},"y":{"field":"f","type":"quantitative","axis":null}}},
{"data":{"name":"k0"},"mark":{"type":"line","interpolate":"step-after","strokeWidth":5,"strokeJoin":"miter","strokeCap":"butt"},"encoding":{
"x":{"field":"lo","type":"quantitative","axis":{"orient":"top","offset":-1134.7,"values":[250,300,350,450,500,550,650,700,750,850,900,950,1050,1100,1150,1250,1300,1350,1450,1500,1550,1650,1700,1750,1850,1900,1950],"labels":false,"tickSize":13,"tickWidth":2,"tickColor":"#000000","title":null,"zindex":1}},
"y":{"field":"f","type":"quantitative","axis":{"orient":"right","offset":-1256,"values":[0.02,0.04,0.06,0.08,0.12,0.14,0.16,0.18,0.22,0.24,0.26,0.28,0.32,0.34,0.36,0.38,0.42,0.44,0.46,0.48,0.52,0.54,0.56,0.58,0.62,0.64,0.66],"labels":false,"tickSize":18,"tickWidth":2,"tickColor":"#000000","title":null,"zindex":1}},
"color":{"datum":"κλ=0"}}},
{"data":{"name":"k0"},"mark":{"type":"circle","color":"#9ebe6b","size":340,"opacity":1},"encoding":{"x":{"field":"m","type":"quantitative","axis":null},"y":{"field":"f","type":"quantitative","axis":null}}},
{"data":{"name":"sm"},"mark":{"type":"rule","color":"#f9fb0e","strokeWidth":5,"strokeCap":"butt"},"encoding":{"x":{"field":"lo","type":"quantitative","axis":null},"x2":{"field":"hi"},"y":{"field":"f","type":"quantitative","axis":null}}},
{"data":{"name":"sm"},"mark":{"type":"line","interpolate":"step-after","strokeWidth":5,"strokeJoin":"miter","strokeCap":"butt"},"encoding":{
"x":{"field":"lo","type":"quantitative","axis":{"orient":"bottom","offset":-1025.6,"values":[200,400,600,800,1000,1200,1400,1600,1800,2000],"labels":false,"tickSize":26,"tickWidth":2,"tickColor":"#000000","title":null,"zindex":1}},
"y":{"field":"f","type":"quantitative","axis":{"orient":"left","offset":-2152,"values":[0,0.1,0.2,0.3,0.4,0.5,0.6],"labels":false,"tickSize":36,"tickWidth":2,"tickColor":"#000000","title":null,"zindex":1}},
"color":{"datum":"SM"}}},
{"data":{"name":"sm"},"mark":{"type":"circle","color":"#f9fb0e","size":340,"opacity":1},"encoding":{"x":{"field":"m","type":"quantitative","axis":null},"y":{"field":"f","type":"quantitative","axis":null}}},
{"mark":{"type":"text","text":"VBF HH","fontSize":37,"align":"left","baseline":"alphabetic","color":"#000000"},"encoding":{"x":{"datum":291.4,"type":"quantitative","axis":null},"y":{"datum":0.60272,"type":"quantitative","axis":null}}},
{"mark":{"type":"text","text":"⟶","font":"DejaVu Sans","fontSize":30,"dx":134,"dy":-2,"align":"left","baseline":"alphabetic","color":"#000000"},"encoding":{"x":{"datum":291.4,"type":"quantitative","axis":null},"y":{"datum":0.60272,"type":"quantitative","axis":null}}},
{"mark":{"type":"text","text":"bbγγ","fontSize":37,"dx":184,"align":"left","baseline":"alphabetic","color":"#000000"},"encoding":{"x":{"datum":291.4,"type":"quantitative","axis":null},"y":{"datum":0.60272,"type":"quantitative","axis":null}}},
{"mark":{"type":"text","text":"√s = 13.6 TeV","fontSize":37,"align":"left","baseline":"alphabetic","color":"#000000"},"encoding":{"x":{"datum":291.4,"type":"quantitative","axis":null},"y":{"datum":0.55998,"type":"quantitative","axis":null}}},
{"mark":{"type":"text","text":"κ","fontSize":37,"align":"left","baseline":"alphabetic","color":"#000000"},"encoding":{"x":{"datum":291.4,"type":"quantitative","axis":null},"y":{"datum":0.51857,"type":"quantitative","axis":null}}},
{"mark":{"type":"text","text":"2V","fontSize":27,"dx":21.4,"dy":12,"align":"left","baseline":"alphabetic","color":"#000000"},"encoding":{"x":{"datum":291.4,"type":"quantitative","axis":null},"y":{"datum":0.51857,"type":"quantitative","axis":null}}},
{"mark":{"type":"text","text":"=1, κ","fontSize":37,"dx":52,"align":"left","baseline":"alphabetic","color":"#000000"},"encoding":{"x":{"datum":291.4,"type":"quantitative","axis":null},"y":{"datum":0.51857,"type":"quantitative","axis":null}}},
{"mark":{"type":"text","text":"V","fontSize":27,"dx":136.2,"dy":12,"align":"left","baseline":"alphabetic","color":"#000000"},"encoding":{"x":{"datum":291.4,"type":"quantitative","axis":null},"y":{"datum":0.51857,"type":"quantitative","axis":null}}},
{"mark":{"type":"text","text":"=1","fontSize":37,"dx":154,"align":"left","baseline":"alphabetic","color":"#000000"},"encoding":{"x":{"datum":291.4,"type":"quantitative","axis":null},"y":{"datum":0.51857,"type":"quantitative","axis":null}}},
{"mark":{"type":"text","text":"λ","fontSize":24,"dx":-2,"dy":10,"align":"left","baseline":"alphabetic","color":"#000000"},"encoding":{"x":{"datum":1706.9,"type":"quantitative","axis":null},"y":{"datum":0.54733,"type":"quantitative","axis":null}}},
{"mark":{"type":"text","text":"=0","fontSize":36,"dx":14,"align":"left","baseline":"alphabetic","color":"#000000"},"encoding":{"x":{"datum":1706.9,"type":"quantitative","axis":null},"y":{"datum":0.54733,"type":"quantitative","axis":null}}},
{"mark":{"type":"text","text":"λ","fontSize":24,"dx":-2,"dy":10,"align":"left","baseline":"alphabetic","color":"#000000"},"encoding":{"x":{"datum":1706.9,"type":"quantitative","axis":null},"y":{"datum":0.50016,"type":"quantitative","axis":null}}},
{"mark":{"type":"text","text":"=2","fontSize":36,"dx":14,"align":"left","baseline":"alphabetic","color":"#000000"},"encoding":{"x":{"datum":1706.9,"type":"quantitative","axis":null},"y":{"datum":0.50016,"type":"quantitative","axis":null}}},
{"mark":{"type":"text","text":"λ","fontSize":24,"dx":-2,"dy":10,"align":"left","baseline":"alphabetic","color":"#000000"},"encoding":{"x":{"datum":1706.9,"type":"quantitative","axis":null},"y":{"datum":0.45408,"type":"quantitative","axis":null}}},
{"mark":{"type":"text","text":"=10","fontSize":36,"dx":14,"align":"left","baseline":"alphabetic","color":"#000000"},"encoding":{"x":{"datum":1706.9,"type":"quantitative","axis":null},"y":{"datum":0.45408,"type":"quantitative","axis":null}}},
{"mark":{"type":"text","text":"Fraction of Events","fontSize":51,"angle":270,"align":"right","baseline":"alphabetic","color":"#000000"},"encoding":{"x":{"datum":-22.5,"type":"quantitative","axis":null},"y":{"datum":0.67,"type":"quantitative","axis":null}}},
{"mark":{"type":"text","text":"M(HH) [GeV]","fontSize":51,"align":"right","baseline":"alphabetic","color":"#000000"},"encoding":{"x":{"datum":1968.3,"type":"quantitative","axis":null},"y":{"datum":-0.11057,"type":"quantitative","axis":null}}}
],
"resolve":{"axis":{"x":"independent","y":"independent"}}
}
],
"resolve":{"scale":{"x":"independent","y":"independent","color":"independent"},"axis":{"x":"independent","y":"independent"}}
}
